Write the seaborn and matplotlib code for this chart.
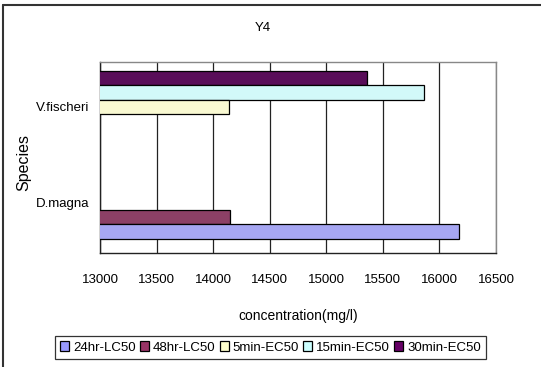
import matplotlib
matplotlib.use("Agg")
import matplotlib.pyplot as plt
from matplotlib import font_manager
from matplotlib.patches import Patch
from matplotlib.lines import Line2D
import seaborn as sns
import pandas as pd

# Toxicity endpoints for compound Y4
species = ["D.magna", "D.magna", "V.fischeri", "V.fischeri", "V.fischeri"]
series = ["24hr-LC50", "48hr-LC50", "5min-EC50", "15min-EC50", "30min-EC50"]
concentration = [16170, 14150, 14140, 15860, 15360]

legend_order = ["24hr-LC50", "48hr-LC50", "5min-EC50", "15min-EC50", "30min-EC50"]
species_order = ["V.fischeri", "D.magna"]
x_ticks = [13000, 13500, 14000, 14500, 15000, 15500, 16000, 16500]

colors = {
    "24hr-LC50": "#9999FF",
    "48hr-LC50": "#993366",
    "5min-EC50": "#FFFFCC",
    "15min-EC50": "#CCFFFF",
    "30min-EC50": "#660066",
}

df = pd.DataFrame({"Species": species, "Series": series, "conc": concentration})

sns.set_theme(style="white")
available = {f.name for f in font_manager.fontManager.ttflist}
family = "Liberation Sans Narrow" if "Liberation Sans Narrow" in available else "Liberation Sans"
plt.rcParams["font.family"] = [family, "DejaVu Sans"]
plt.rcParams["text.color"] = "black"

W, H = 541, 367
fig = plt.figure(figsize=(W / 100, H / 100), dpi=100)
fig.patch.set_facecolor("white")

left, right, top, bottom = 100, 496, 62, 253
ax = fig.add_axes([left / W, 1 - bottom / H, (right - left) / W, (bottom - top) / H])

sns.barplot(
    data=df, y="Species", x="conc", hue="Series", orient="h",
    order=species_order, hue_order=legend_order[::-1], palette=colors,
    width=0.76, edgecolor="black", linewidth=0.9, errorbar=None,
    legend=False, ax=ax, zorder=3,
)

ax.set_xlim(13000, 16500)
ax.set_xticks(x_ticks)
ax.set_xticklabels([str(t) for t in x_ticks], fontsize=9.5)
ax.grid(axis="x", color="#222222", linewidth=0.9, zorder=0)
ax.grid(axis="y", visible=False)
ax.tick_params(axis="x", length=0, pad=15, colors="black")
ax.tick_params(axis="y", length=0, pad=8, labelsize=9.5, colors="black")
ax.set_yticks([0.5], minor=True)
ax.tick_params(axis="y", which="minor", direction="in", length=3, color="#333333", width=0.9)
ax.set_ylim(1.53, -0.47)
ax.set_xlabel("")
ax.set_ylabel("")
for s in ax.spines.values():
    s.set_visible(True)
    s.set_color("#888888")
    s.set_linewidth(1.0)
ax.spines["left"].set_color("#222222")
ax.spines["bottom"].set_color("#222222")

fig.text(263 / W, 1 - 28 / H, "Y4", ha="center", va="center", fontsize=9.5)
fig.text(298 / W, 1 - 316 / H, "concentration(mg/l)", ha="center", va="center", fontsize=10)
fig.text(24 / W, 1 - 162 / H, "Species", ha="center", va="center", rotation=90, fontsize=11.5)

handles = [Patch(facecolor=colors[s], edgecolor="black", linewidth=0.9) for s in legend_order]
leg = fig.legend(
    handles, legend_order, loc="center", bbox_to_anchor=(270.5 / W, 1 - 347.5 / H),
    ncol=5, fontsize=9.5, frameon=True, fancybox=False, handlelength=0.7,
    handleheight=0.7, handletextpad=0.3, columnspacing=0.3, borderpad=0.4,
    borderaxespad=0,
)
leg.get_frame().set_edgecolor("black")
leg.get_frame().set_linewidth(0.9)

# outer chart border (left and top edges)
fig.add_artist(Line2D([3 / W, 3 / W], [0, 1 - 5 / H], transform=fig.transFigure,
                      color="#333333", linewidth=1.5))
fig.add_artist(Line2D([3 / W, 1], [1 - 5 / H, 1 - 5 / H], transform=fig.transFigure,
                      color="#333333", linewidth=1.5))

fig.savefig("out.png", dpi=100)
